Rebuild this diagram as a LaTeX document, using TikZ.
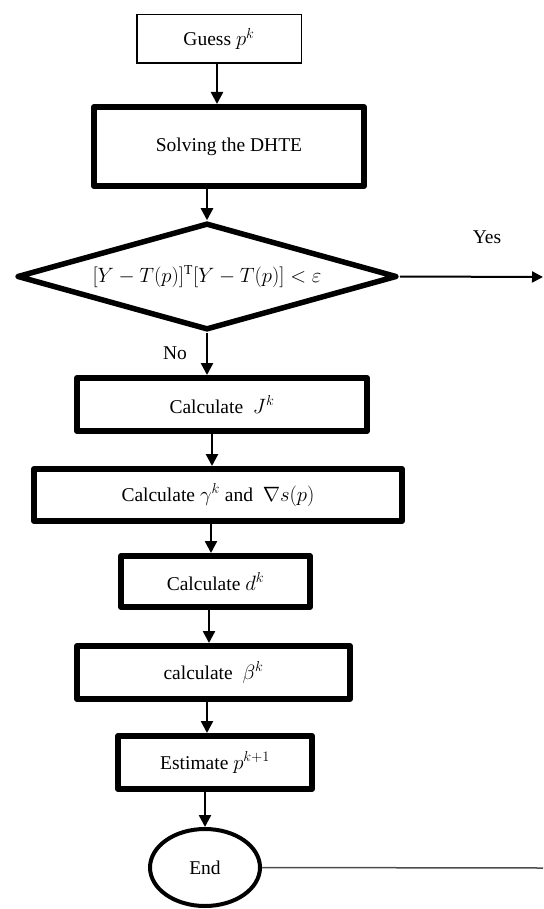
\documentclass[tikz,border=0pt]{standalone}
\usepackage{fontspec}
\setmainfont{Liberation Serif}
\usetikzlibrary{shapes.geometric,arrows.meta}
\begin{document}
\begin{tikzpicture}[x=1pt,y=-1pt,
  every node/.style={font=\fontsize{19.5}{23}\selectfont, inner sep=0pt},
  thinbox/.style={draw, line width=1.5pt, rectangle},
  thickbox/.style={draw, line width=6pt, rectangle, line join=round},
  arr/.style={line width=2.5pt, -{Triangle[width=12pt,length=12pt]}},
]
\useasboundingbox (0,0) rectangle (543,909);
\node[thinbox, minimum width=164.5pt, minimum height=48.5pt] (guess) at (219,39) {Guess $p^k$};
\node[thickbox, minimum width=270pt, minimum height=79pt] (solve) at (229,146.5) {Solving the DHTE};
\node[draw, diamond, line width=5.5pt, line join=round, shape aspect=3.4,
      minimum width=380pt, minimum height=107pt] (dia) at (207,276.5) {$[Y-T(p)]^{\mathrm{T}}[Y-T(p)]<\varepsilon$};
\node[thickbox, minimum width=290pt, minimum height=53pt] (calcJ) at (222,404.5) {Calculate \ $J^k$};
\node[thickbox, minimum width=368pt, minimum height=52pt] (calcG) at (218,495) {Calculate $\gamma^k$ and \ $\nabla s(p)$};
\node[thickbox, minimum width=189pt, minimum height=51pt] (calcD) at (215.5,581.5) {Calculate $d^k$};
\node[thickbox, minimum width=273pt, minimum height=53pt] (calcB) at (213.5,672.5) {calculate \ $\beta^k$};
\node[thickbox, minimum width=194pt, minimum height=53pt] (est) at (215,762.5) {Estimate $p^{k+1}$};
\node[draw, ellipse, line width=4pt, minimum width=110pt, minimum height=77pt] (end) at (205,867.5) {End};
\node (yes) at (487,237) {Yes};
\node (no) at (175,353) {No};
\coordinate (yesend) at (543,277);
\coordinate (endline) at (543,868);
\draw[arr] (217,0 |- guess.south) -- (217,0 |- solve.north);
\draw[arr] (dia.north |- solve.south) -- (dia.north);
\draw[arr] (dia.south) -- (dia.south |- calcJ.north);
\draw[arr] (212,0 |- calcJ.south) -- (212,0 |- calcG.north);
\draw[arr] (211,0 |- calcG.south) -- (211,0 |- calcD.north);
\draw[arr] (209,0 |- calcD.south) -- (209,0 |- calcB.north);
\draw[arr] (207,0 |- calcB.south) -- (207,0 |- est.north);
\draw[arr] (end.north |- est.south) -- (end.north);
\draw[line width=2pt, -{Triangle[width=11pt,length=11pt]}] (dia.east) -- (yesend);
\draw[line width=1.5pt, draw=black!70] (end.east) -- (endline);
\end{tikzpicture}
\end{document}
